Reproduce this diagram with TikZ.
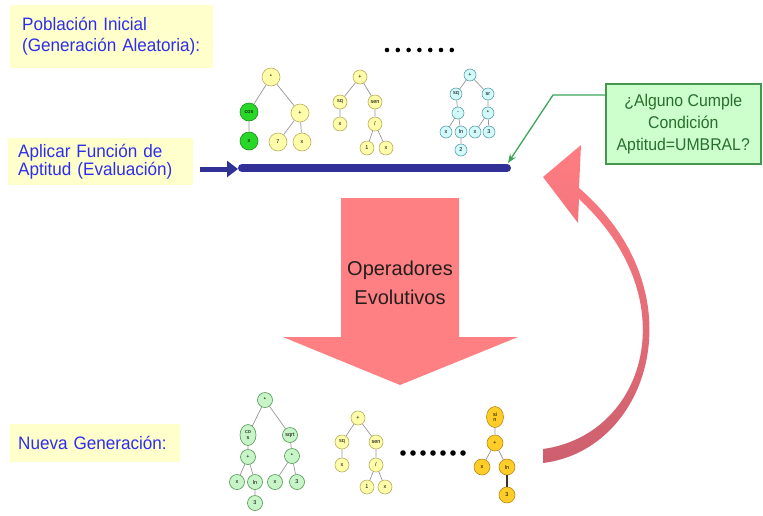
\documentclass[tikz,border=0pt]{standalone}
\usepackage{fontspec}
\setmainfont{Liberation Sans}
\newfontfamily\labelfont[FakeStretch=0.95]{Liberation Sans}
\newfontfamily\checkfont[FakeStretch=0.93]{Liberation Sans}
\usetikzlibrary{arrows.meta,shapes.geometric}

\definecolor{boxyellow}{RGB}{255,255,204}
\definecolor{textblue}{RGB}{45,45,240}
\definecolor{navy}{RGB}{48,48,150}
\definecolor{checkfill}{RGB}{204,255,204}
\definecolor{checkline}{RGB}{70,150,80}
\definecolor{checktext}{RGB}{40,110,45}
\definecolor{arrowgreen}{RGB}{60,165,90}
\definecolor{bigpink}{RGB}{255,128,130}
\definecolor{pinktop}{RGB}{255,125,130}
\definecolor{pinkbottom}{RGB}{205,95,110}
\definecolor{edgegray}{RGB}{150,150,150}
\definecolor{yfill}{RGB}{255,252,170}
\definecolor{yline}{RGB}{185,175,90}
\definecolor{gfill}{RGB}{40,215,40}
\definecolor{gline}{RGB}{25,140,30}
\definecolor{cfill}{RGB}{210,250,250}
\definecolor{cline}{RGB}{90,160,170}
\definecolor{lgfill}{RGB}{200,245,200}
\definecolor{lgline}{RGB}{80,150,80}
\definecolor{ofill}{RGB}{255,205,40}
\definecolor{oline}{RGB}{185,135,20}

\begin{document}
\begin{tikzpicture}[x=1pt,y=-1pt,
  tnode/.style={circle, draw, line width=0.6pt, inner sep=0pt,
    font=\fontsize{5.5}{5.5}\selectfont},
  tall/.style={ellipse, draw, line width=0.6pt, inner sep=0pt, align=center,
    minimum width=16pt, minimum height=21pt, font=\fontsize{5.5}{5.5}\selectfont},
  ynode/.style={fill=yfill, draw=yline},
  gnode/.style={fill=gfill, draw=gline},
  cnode/.style={fill=cfill, draw=cline},
  lgnode/.style={fill=lgfill, draw=lgline},
  onode/.style={fill=ofill, draw=oline},
  tedge/.style={draw=edgegray, line width=0.7pt},
  labelbox/.style={fill=boxyellow, anchor=north west, align=left, inner xsep=8pt,
    text=textblue, font=\labelfont\fontsize{18}{21}\selectfont},
  dotmark/.style={fill=black}
]
\useasboundingbox (0,0) rectangle (763,515);

% ---- text labels on the left ----
\node[labelbox, minimum width=203pt, minimum height=63pt, text width=179pt,
  inner xsep=12pt]
  (labelpop) at (10,5) {Población Inicial\\(Generación Aleatoria):};
\node[labelbox, minimum width=185pt, minimum height=47pt, text width=165pt,
  inner xsep=10pt, font=\labelfont\fontsize{18}{16}\selectfont]
  (labeleval) at (8,138) {Aplicar Función de\\Aptitud (Evaluación)};
\node[labelbox, minimum width=170pt, minimum height=38pt, text width=154pt]
  (labelnew) at (10,424) {Nueva Generación:};

% ---- evaluation bar and incoming arrow ----
\coordinate (arrowstart) at (200,169);
\coordinate (barL) at (242,168);
\coordinate (barR) at (507,168);
\draw[navy, line width=5pt, -{Triangle[length=11pt,width=16pt]}]
  (arrowstart) -- (238,169);
\draw[navy, line width=8pt, line cap=round] (barL) -- (barR);

% ---- condition box ----
\node[draw=checkline, line width=1.5pt, fill=checkfill, anchor=north west,
  minimum width=155pt, minimum height=80pt, align=center, text=checktext,
  font=\checkfont\fontsize{17}{22}\selectfont]
  (checkbox) at (605,83) {¿Alguno Cumple\\Condición\\Aptitud=UMBRAL?};
\coordinate (chk) at (605,95);
\coordinate (bend) at (553,95);
\coordinate (bartip) at (508,163);
\draw[arrowgreen, line width=1.3pt, -{Stealth[length=9pt,width=7pt]}]
  (chk) -- (bend) -- (bartip);

% ---- big downward arrow ----
\fill[bigpink] (341,198) -- (459,198) -- (459,337) -- (518,337) -- (400,385)
  -- (283,337) -- (341,337) -- cycle;
\node[text={rgb,255:red,35;green,30;blue,30}, align=center,
  font=\fontsize{20}{29}\selectfont] (ops) at (400,283) {Operadores\\Evolutivos};

% ---- curved feedback arrow ----
\shade[top color=pinktop, bottom color=pinkbottom]
  (543,463) .. controls (650,450) and (700,292) .. (579,188)
  -- (581,145) -- (543,177) -- (578,223) -- (579,199)
  .. controls (688,300) and (645,435) .. (543,449) -- cycle;

% ---- ellipsis dots ----
\foreach \i in {0,...,6} \fill[dotmark] (387+10.8*\i,50) circle (2.3pt);
\foreach \i in {0,...,6} \fill[dotmark] (403+10*\i,453) circle (2.8pt);

% ---- tree 1 (initial population) ----
\begin{scope}[every node/.append style={minimum size=18pt}]
\node[tnode, ynode] (t1r) at (271,77) {*};
\node[tnode, gnode] (t1a) at (249,112) {cos};
\node[tnode, ynode] (t1b) at (300,113) {+};
\node[tnode, gnode] (t1c) at (249,141) {x};
\node[tnode, ynode] (t1d) at (278,142) {7};
\node[tnode, ynode] (t1e) at (302,142) {x};
\end{scope}
\draw[tedge] (t1r) -- (t1a) (t1r) -- (t1b) (t1a) -- (t1c) (t1b) -- (t1d) (t1b) -- (t1e);

% ---- tree 2 ----
\begin{scope}[every node/.append style={minimum size=14pt}]
\node[tnode, ynode] (t2r) at (360,77) {+};
\node[tnode, ynode] (t2a) at (340,102) {sq};
\node[tnode, ynode] (t2b) at (375,102) {sen};
\node[tnode, ynode] (t2c) at (340,124) {x};
\node[tnode, ynode] (t2d) at (375,124) {/};
\node[tnode, ynode] (t2e) at (367,148) {1};
\node[tnode, ynode] (t2f) at (386,148) {x};
\end{scope}
\draw[tedge] (t2r) -- (t2a) (t2r) -- (t2b) (t2a) -- (t2c) (t2b) -- (t2d)
  (t2d) -- (t2e) (t2d) -- (t2f);

% ---- tree 3 ----
\begin{scope}[every node/.append style={minimum size=12pt,
    font=\fontsize{4.5}{4.5}\selectfont}]
\node[tnode, cnode] (t3r) at (470,75) {+};
\node[tnode, cnode] (t3a) at (456,94) {sq};
\node[tnode, cnode] (t3b) at (488,94) {sr};
\node[tnode, cnode] (t3c) at (458,113) {-};
\node[tnode, cnode] (t3d) at (488,113) {*};
\node[tnode, cnode] (t3e) at (446,132) {x};
\node[tnode, cnode] (t3f) at (461,132) {ln};
\node[tnode, cnode] (t3g) at (475,132) {x};
\node[tnode, cnode] (t3h) at (489,132) {3};
\node[tnode, cnode] (t3i) at (461,150) {2};
\end{scope}
\draw[tedge] (t3r) -- (t3a) (t3r) -- (t3b) (t3a) -- (t3c) (t3b) -- (t3d)
  (t3c) -- (t3e) (t3c) -- (t3f) (t3d) -- (t3g) (t3d) -- (t3h) (t3f) -- (t3i);

% ---- tree 4 (new generation) ----
\begin{scope}[every node/.append style={minimum size=15pt}]
\node[tnode, lgnode] (t4r) at (265,400) {*};
\node[tall, lgnode, minimum size=0pt, minimum width=16pt, minimum height=21pt]
  (t4a) at (248,435) {co\\s};
\node[tnode, lgnode] (t4b) at (290,435) {sqrt};
\node[tnode, lgnode] (t4c) at (248,457) {+};
\node[tnode, lgnode] (t4d) at (292,456) {*};
\node[tnode, lgnode] (t4e) at (237,482) {x};
\node[tnode, lgnode] (t4f) at (255,482) {ln};
\node[tnode, lgnode] (t4g) at (275,482) {x};
\node[tnode, lgnode] (t4h) at (297,482) {3};
\node[tnode, lgnode] (t4i) at (255,503) {3};
\end{scope}
\draw[tedge] (t4r) -- (t4a) (t4r) -- (t4b) (t4a) -- (t4c) (t4b) -- (t4d)
  (t4c) -- (t4e) (t4c) -- (t4f) (t4d) -- (t4g) (t4d) -- (t4h) (t4f) -- (t4i);

% ---- tree 5 ----
\begin{scope}[every node/.append style={minimum size=14pt}]
\node[tnode, ynode] (t5r) at (358,418) {+};
\node[tnode, ynode] (t5a) at (342,442) {sq};
\node[tnode, ynode] (t5b) at (376,442) {sen};
\node[tnode, ynode] (t5c) at (342,465) {x};
\node[tnode, ynode] (t5d) at (376,465) {/};
\node[tnode, ynode] (t5e) at (367,487) {1};
\node[tnode, ynode] (t5f) at (385,487) {x};
\end{scope}
\draw[tedge] (t5r) -- (t5a) (t5r) -- (t5b) (t5a) -- (t5c) (t5b) -- (t5d)
  (t5d) -- (t5e) (t5d) -- (t5f);

% ---- tree 6 ----
\begin{scope}[every node/.append style={minimum size=16pt}]
\node[tall, onode, minimum size=0pt, minimum width=17pt, minimum height=21pt]
  (t6r) at (495,417) {si\\n};
\node[tnode, onode] (t6a) at (495,443) {+};
\node[tnode, onode] (t6b) at (482,467) {x};
\node[tnode, onode] (t6c) at (507,467) {ln};
\node[tnode, onode] (t6d) at (507,495) {3};
\end{scope}
\draw[tedge] (t6r) -- (t6a) (t6a) -- (t6b) (t6a) -- (t6c);
\draw[draw={rgb,255:red,60;green,50;blue,30}, line width=1.1pt] (t6c) -- (t6d);

\end{tikzpicture}
\end{document}
